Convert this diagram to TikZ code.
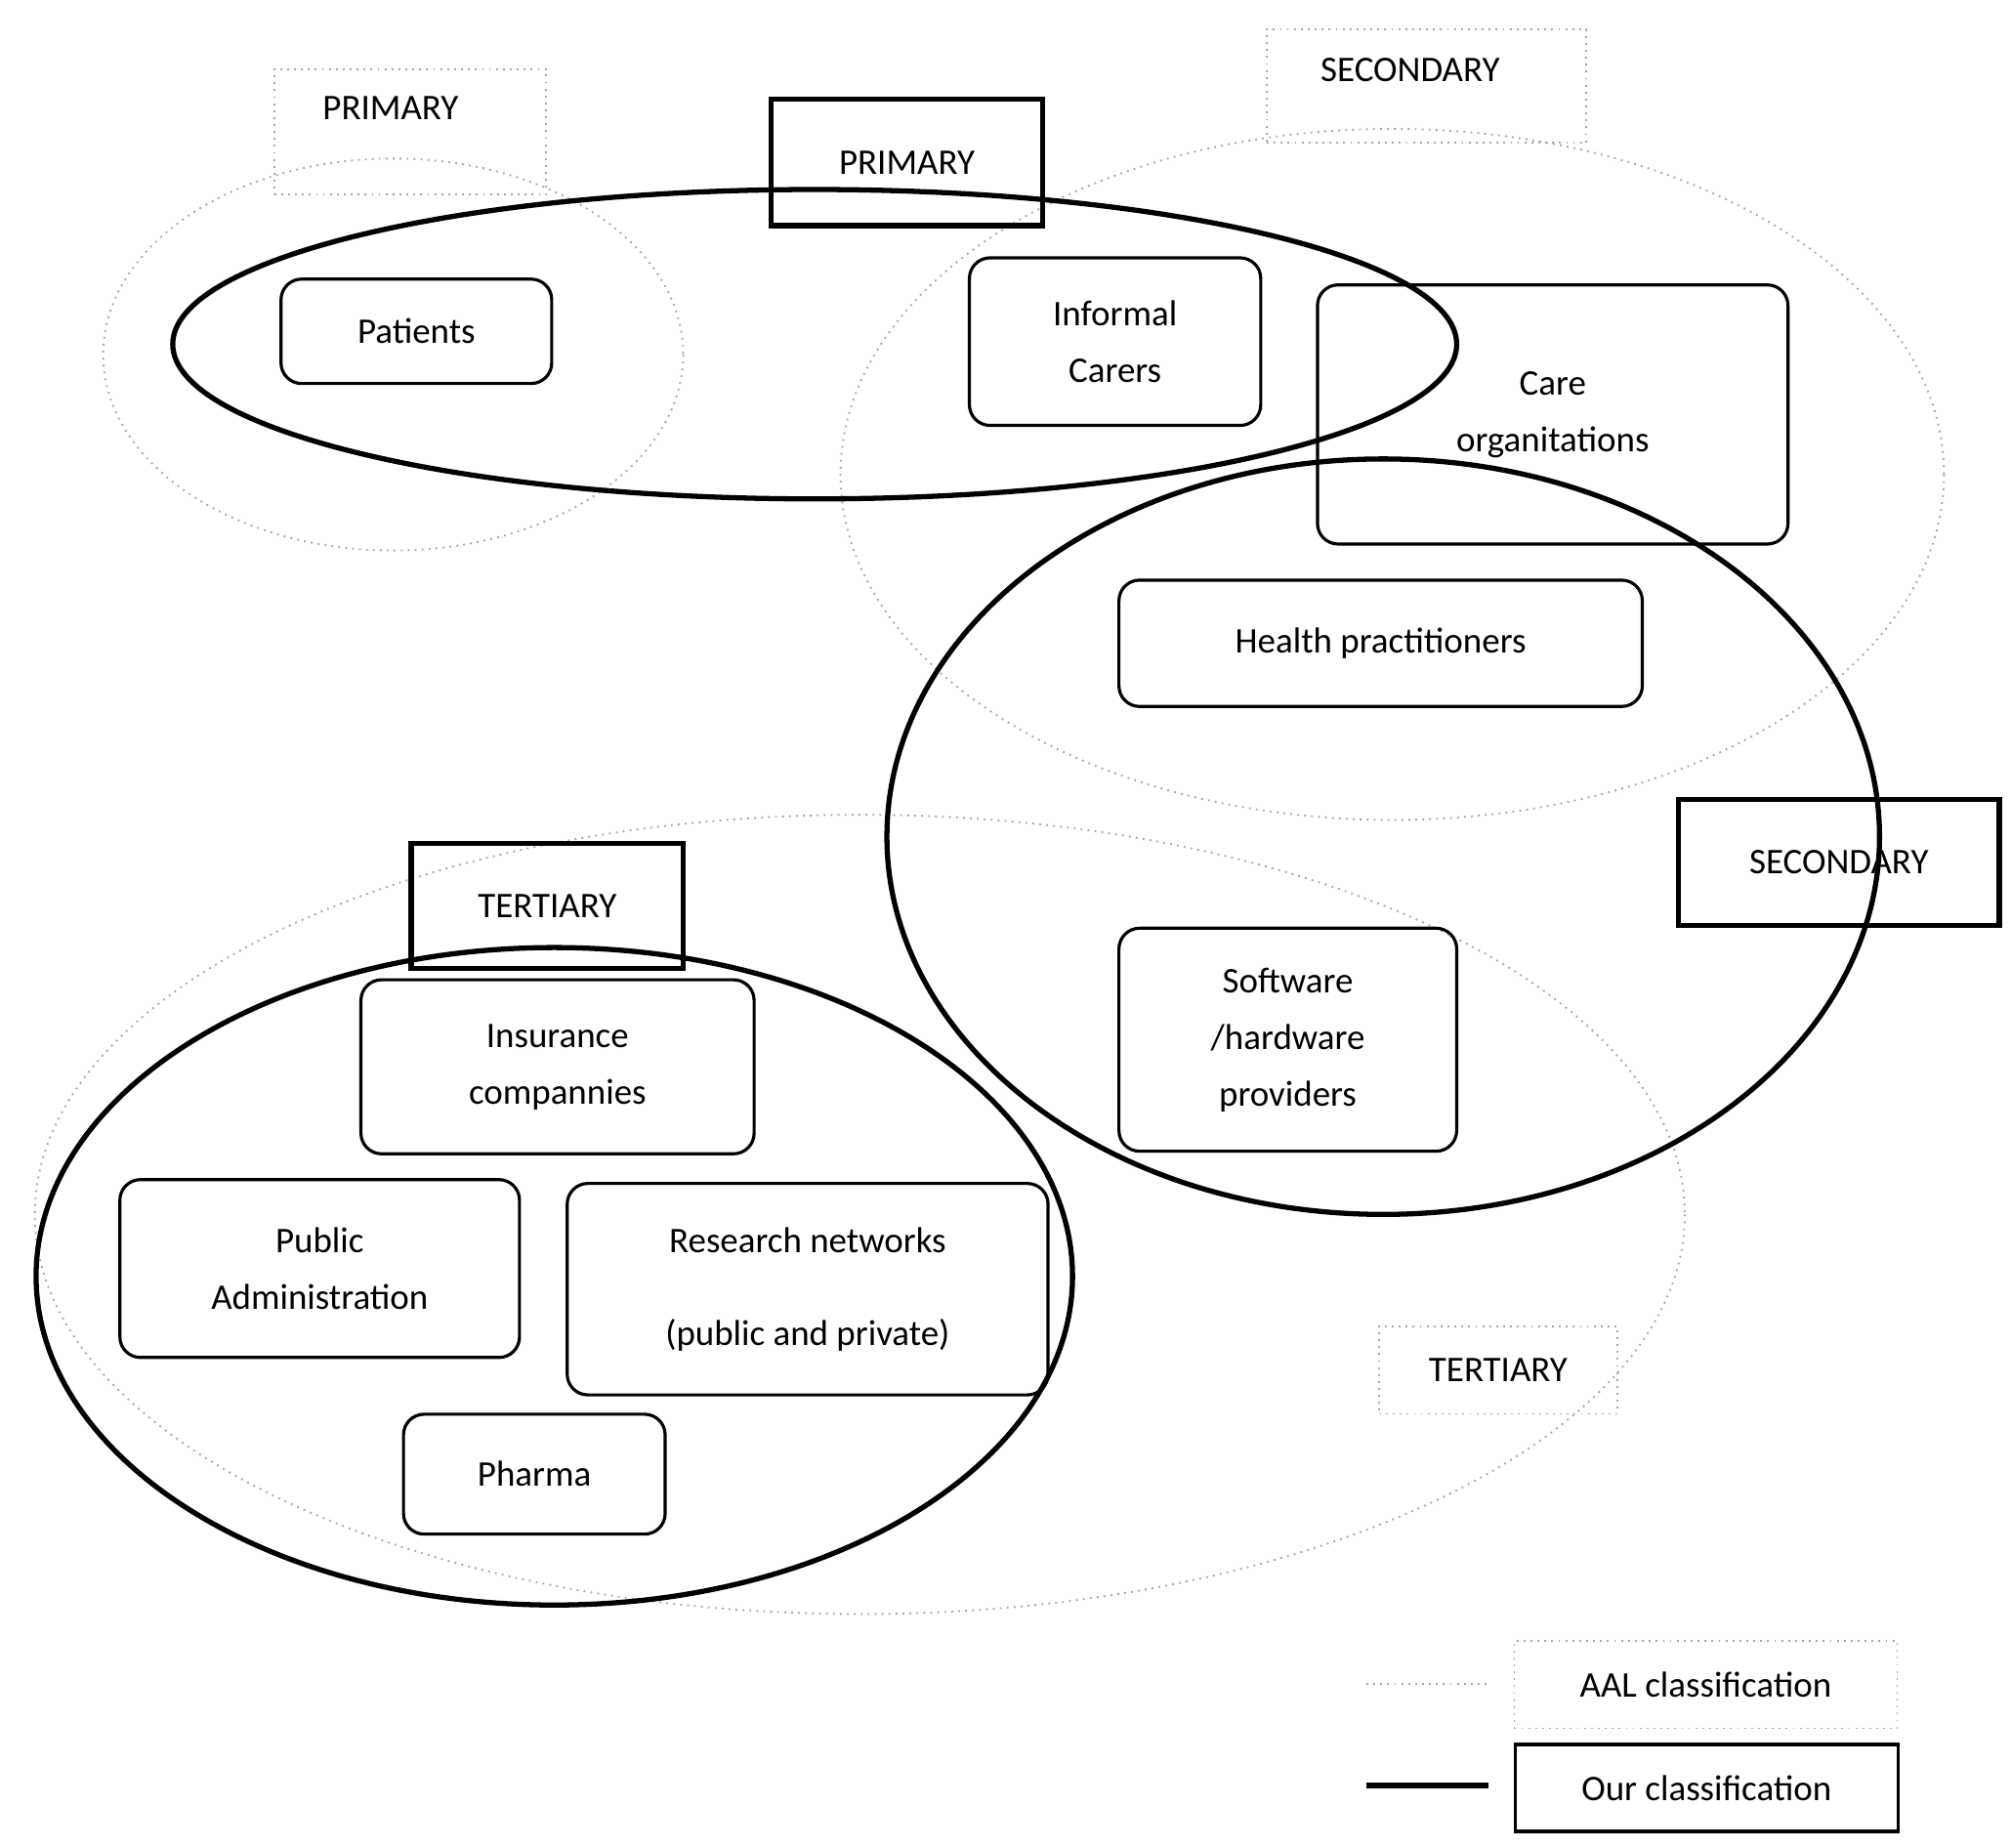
\documentclass[tikz,border=0pt]{standalone}
\usepackage{fontspec}
\setmainfont{Carlito}
\begin{document}
\begin{tikzpicture}[x=0.5pt,y=-0.5pt,
  aal/.style={draw=gray!70,dotted,line width=0.7pt},
  our/.style={draw=black,line width=2pt},
  ent/.style={draw=black,line width=1.2pt,rounded corners=8pt,align=center,font=\fontsize{14}{22}\selectfont},
  lbl/.style={font=\fontsize{14}{17}\selectfont}]
\useasboundingbox (0,0) rectangle (1560,1433);
% AAL ellipses
\draw[aal] (305,275) ellipse [x radius=225, y radius=152];
\draw[aal] (1080,368) ellipse [x radius=428, y radius=268];
\draw[aal] (667,942) ellipse [x radius=640, y radius=310];
% our ellipses
\draw[our] (632,267) ellipse [x radius=498, y radius=120];
\draw[our] (1073,649) ellipse [x radius=385, y radius=293];
\draw[our] (430,990) ellipse [x radius=402, y radius=255];
% labels
\node[aal,lbl,minimum width=105.5pt,minimum height=48.5pt,inner sep=0pt,anchor=north west] (pa) at (212,53) {};
\node[lbl,anchor=north] (pat) at (303,68) {PRIMARY};
\node[our,lbl,minimum width=105.5pt,minimum height=49pt,anchor=north west] (po) at (596,75) {PRIMARY};
\node[aal,lbl,minimum width=124pt,minimum height=44pt,anchor=north west] (sa) at (982,22) {};
\node[lbl,anchor=north] (sat) at (1094,38) {SECONDARY};
\node[our,lbl,minimum width=124.5pt,minimum height=49pt,anchor=north west] (so) at (1300,618) {SECONDARY};
\node[our,lbl,minimum width=105.5pt,minimum height=48.5pt,anchor=north west] (to) at (317,652) {TERTIARY};
\node[aal,lbl,minimum width=92.5pt,minimum height=34pt,anchor=north west] (ta) at (1069,1028) {TERTIARY};
% entities
\node[ent,minimum width=105pt,minimum height=40.5pt] (patients) at (323,257) {Patients};
\node[ent,minimum width=113pt,minimum height=65pt] (carers) at (865,265) {Informal\\Carers};
\node[ent,minimum width=182.5pt,minimum height=100.5pt] (care) at (1204.5,321.5) {Care\\organitations};
\node[ent,minimum width=203pt,minimum height=49pt] (health) at (1071,499) {Health practitioners};
\node[ent,minimum width=131pt,minimum height=86.5pt] (soft) at (999,806.5) {Software\\/hardware\\providers};
\node[ent,minimum width=152.5pt,minimum height=67.5pt] (ins) at (432.5,827.5) {Insurance\\compannies};
\node[ent,minimum width=155pt,minimum height=69pt] (pub) at (248,984) {Public\\Administration};
\node[ent,minimum width=186.5pt,minimum height=82pt,font=\fontsize{14}{36}\selectfont] (res) at (626.5,1000) {Research networks\\(public and private)};
\node[ent,minimum width=101.5pt,minimum height=46.5pt] (pharma) at (414.5,1143.5) {Pharma};
% legend
\coordinate (l1a) at (1060,1306); \coordinate (l1b) at (1155,1306);
\coordinate (l2a) at (1060,1385); \coordinate (l2b) at (1155,1385);
\draw[aal] (l1a) -- (l1b);
\draw[our] (l2a) -- (l2b);
\node[aal,lbl,minimum width=148.5pt,minimum height=34pt,anchor=north west] (lg1) at (1174,1272) {AAL classification};
\node[draw,line width=1.4pt,lbl,minimum width=148.5pt,minimum height=33.5pt,anchor=north west] (lg2) at (1174,1352) {Our classification};
\end{tikzpicture}
\end{document}
